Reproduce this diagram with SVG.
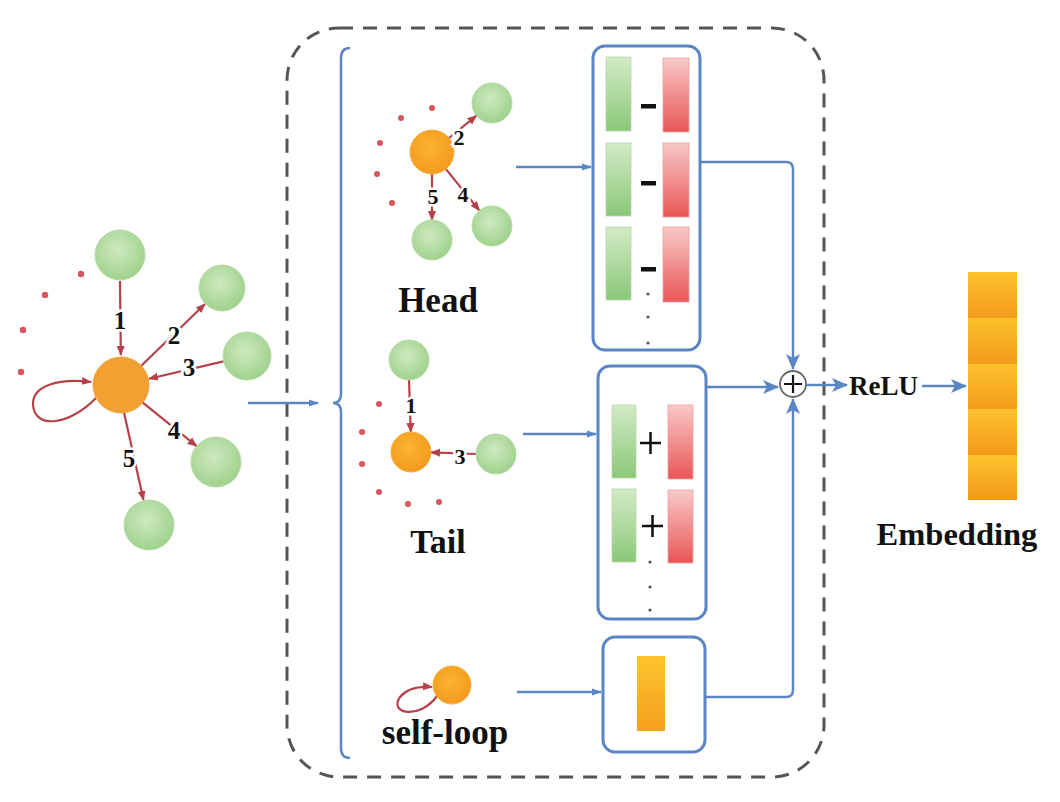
<svg xmlns="http://www.w3.org/2000/svg" width="1060" height="802" viewBox="0 0 1060 802">
<defs>
<style>
.lbl{font-family:"Liberation Serif","Times New Roman",serif;font-weight:bold;fill:#111;}
.num{font-family:"Liberation Serif","Times New Roman",serif;font-weight:bold;fill:#111;text-anchor:middle;stroke:#fff;stroke-width:5;paint-order:stroke;}
.red{stroke:#b5414b;stroke-width:2.2;fill:none;}
.blue{stroke:#5b86c6;stroke-width:2.5;fill:none;}
.box{stroke:#5b86c6;stroke-width:3;fill:#fff;}
.dot{fill:#d9545c;}
.gbar{fill:url(#gbar);stroke:#b8d8a8;stroke-width:0.8;}
.rbar{fill:url(#rbar);stroke:#eaa0a0;stroke-width:0.8;}
.gn{fill:url(#gnode);stroke:#b7dba6;stroke-width:1;}
.on{fill:url(#onode);stroke:#f3b040;stroke-width:1;}
.seg{fill:url(#seg);}
</style>
<linearGradient id="gbar" x1="0" y1="0" x2="0" y2="1"><stop offset="0" stop-color="#d3ebc6"/><stop offset="1" stop-color="#8ac878"/></linearGradient>
<linearGradient id="rbar" x1="0" y1="0" x2="0" y2="1"><stop offset="0" stop-color="#f9c8c8"/><stop offset="1" stop-color="#ea5656"/></linearGradient>
<linearGradient id="seg" x1="0" y1="0" x2="0" y2="1"><stop offset="0" stop-color="#fcc22c"/><stop offset="1" stop-color="#f49a1c"/></linearGradient>
<linearGradient id="obar" x1="0" y1="0" x2="0" y2="1"><stop offset="0" stop-color="#fdc42c"/><stop offset="1" stop-color="#f4a020"/></linearGradient>
<radialGradient id="gnode" cx="0.45" cy="0.4" r="0.6"><stop offset="0" stop-color="#cfe9c1"/><stop offset="1" stop-color="#9fd28c"/></radialGradient>
<radialGradient id="onode" cx="0.45" cy="0.4" r="0.6"><stop offset="0" stop-color="#fbb430"/><stop offset="1" stop-color="#f39a1e"/></radialGradient>
<marker id="ra" markerUnits="userSpaceOnUse" markerWidth="10" markerHeight="10" viewBox="0 0 10 10" refX="9" refY="5" orient="auto"><path d="M0,1 L10,5 L0,9 Z" fill="#b5414b"/></marker>
<marker id="ba" markerUnits="userSpaceOnUse" markerWidth="10" markerHeight="10" viewBox="0 0 10 10" refX="9" refY="5" orient="auto"><path d="M0,1.5 L10,5 L0,8.5 Z" fill="#5b86c6"/></marker>
<marker id="bb" markerUnits="userSpaceOnUse" markerWidth="16" markerHeight="16" viewBox="0 0 16 16" refX="15" refY="8" orient="auto"><path d="M0,1 L16,8 L0,15 L4,8 Z" fill="#5b86c6"/></marker>
</defs>
<rect width="1060" height="802" fill="#fff"/>

<g id="frame">
<rect x="287" y="28" width="537" height="749" rx="52" fill="none" stroke="#555" stroke-width="3" stroke-dasharray="14 10"/>
<path d="M350,48 Q341,48 341,58 L341,394 Q341,403 333,403 Q341,403 341,412 L341,748 Q341,758 350,758" class="blue"/>
</g>

<g id="input-graph">
<path class="red" d="M120,281 L120.8,355" marker-end="url(#ra)"/>
<path class="red" d="M141,366 L205,304" marker-end="url(#ra)"/>
<path class="red" d="M223.6,361.4 L149,378.7" marker-end="url(#ra)"/>
<path class="red" d="M142.8,402.6 L196.6,446.2" marker-end="url(#ra)"/>
<path class="red" d="M124,412.5 L143.5,500" marker-end="url(#ra)"/>
<path class="red" d="M96,398 C70,425 35,430 33,405 C32,385 60,378 91,382" marker-end="url(#ra)"/>
<circle class="gn" cx="120" cy="255" r="25"/>
<circle class="gn" cx="222" cy="288" r="23"/>
<circle class="gn" cx="247" cy="356" r="24"/>
<circle class="gn" cx="216" cy="462" r="25"/>
<circle class="gn" cx="149" cy="525" r="25"/>
<circle cx="121" cy="385" r="28" fill="#f2a032" stroke="#eea040"/>
<circle class="dot" cx="81" cy="274" r="3.2"/>
<circle class="dot" cx="45" cy="295" r="3.2"/>
<circle class="dot" cx="23" cy="330" r="3.2"/>
<circle class="dot" cx="21" cy="372" r="3.2"/>
<text class="num" x="120" y="329" font-size="25">1</text>
<text class="num" x="174" y="344" font-size="25">2</text>
<text class="num" x="189" y="376" font-size="25">3</text>
<text class="num" x="174" y="439" font-size="25">4</text>
<text class="num" x="129" y="467" font-size="25">5</text>
</g>

<g id="head-graph">
<path class="red" d="M449,138 L476.5,115.7" marker-end="url(#ra)"/>
<path class="red" d="M445.9,169.1 L479.4,210.5" marker-end="url(#ra)"/>
<path class="red" d="M432,174 L432,220" marker-end="url(#ra)"/>
<circle class="gn" cx="492" cy="103" r="20"/>
<circle class="gn" cx="492" cy="226" r="20"/>
<circle class="gn" cx="432" cy="240" r="20"/>
<circle class="on" cx="432" cy="152" r="22"/>
<circle class="dot" cx="432" cy="108" r="3"/>
<circle class="dot" cx="401" cy="118" r="3"/>
<circle class="dot" cx="380" cy="143" r="3"/>
<circle class="dot" cx="377" cy="174" r="3"/>
<circle class="dot" cx="392" cy="203" r="3"/>
<text class="num" x="459" y="145" font-size="22">2</text>
<text class="num" x="463" y="202" font-size="22">4</text>
<text class="num" x="433" y="204" font-size="22">5</text>
<text class="lbl" x="438" y="312" font-size="35" text-anchor="middle">Head</text>
</g>

<g id="tail-graph">
<path class="red" d="M409,380 L410.8,432" marker-end="url(#ra)"/>
<path class="red" d="M476,454 L431,452.3" marker-end="url(#ra)"/>
<circle class="gn" cx="409" cy="360" r="20"/>
<circle class="gn" cx="496" cy="454" r="20"/>
<circle class="on" cx="411" cy="452" r="20"/>
<circle class="dot" cx="379" cy="404" r="3"/>
<circle class="dot" cx="362" cy="432" r="3"/>
<circle class="dot" cx="362" cy="464" r="3"/>
<circle class="dot" cx="379" cy="492" r="3"/>
<circle class="dot" cx="408" cy="504" r="3"/>
<circle class="dot" cx="439" cy="502" r="3"/>
<text class="num" x="411" y="413" font-size="22">1</text>
<text class="num" x="460" y="464" font-size="22">3</text>
<text class="lbl" x="438" y="553" font-size="34" text-anchor="middle">Tail</text>
</g>

<g id="selfloop-graph">
<path class="red" d="M437,696 C420,720 388,714 400,697 C407,688 418,686 432,687" marker-end="url(#ra)"/>
<circle class="on" cx="452" cy="685" r="19"/>
<text class="lbl" x="445" y="744" font-size="35" text-anchor="middle">self-loop</text>
</g>

<g id="head-box">
<rect class="box" x="593" y="46" width="107" height="304" rx="12"/>
<rect class="gbar" x="606" y="57" width="25" height="74"/>
<rect class="gbar" x="606" y="143" width="25" height="73"/>
<rect class="gbar" x="606" y="227" width="25" height="73"/>
<rect class="rbar" x="663" y="58" width="26" height="74"/>
<rect class="rbar" x="663" y="143" width="26" height="74"/>
<rect class="rbar" x="663" y="227" width="26" height="75"/>
<rect x="641" y="104" width="15" height="4.5" fill="#111"/>
<rect x="641" y="181" width="15" height="4.5" fill="#111"/>
<rect x="641" y="267" width="15" height="4.5" fill="#111"/>
<circle cx="648" cy="294" r="1.6" fill="#555"/>
<circle cx="648" cy="317" r="1.6" fill="#555"/>
<circle cx="648" cy="343" r="1.6" fill="#555"/>
</g>

<g id="tail-box">
<rect class="box" x="598" y="366" width="108" height="253" rx="12"/>
<rect class="gbar" x="612" y="405" width="24" height="73"/>
<rect class="gbar" x="612" y="489" width="24" height="73"/>
<rect class="rbar" x="668" y="405" width="25" height="74"/>
<rect class="rbar" x="668" y="490" width="25" height="73"/>
<path d="M640,443 L661,443 M650.5,432 L650.5,454 M642,526 L663,526 M652.5,515 L652.5,537" stroke="#111" stroke-width="2.5"/>
<circle cx="650" cy="562" r="1.6" fill="#555"/>
<circle cx="650" cy="587" r="1.6" fill="#555"/>
<circle cx="650" cy="610" r="1.6" fill="#555"/>
</g>

<g id="selfloop-box">
<rect class="box" x="603" y="637" width="102" height="115" rx="12"/>
<rect x="637" y="656" width="28" height="75" fill="url(#obar)"/>
</g>

<g id="sum">
<circle cx="793" cy="384" r="13" fill="#fff" stroke="#666" stroke-width="1.8"/>
<path d="M784,384 L802,384 M793,375 L793,393" stroke="#111" stroke-width="2.2"/>
</g>

<g id="embedding">
<rect class="seg" x="968" y="272" width="49" height="46"/>
<rect class="seg" x="968" y="318" width="49" height="46"/>
<rect class="seg" x="968" y="364" width="49" height="45"/>
<rect class="seg" x="968" y="409" width="49" height="46"/>
<rect class="seg" x="968" y="455" width="49" height="45"/>
<text class="lbl" x="957" y="545" font-size="32.5" text-anchor="middle">Embedding</text>
</g>

<g id="relu">
<text class="lbl" x="849" y="395" font-size="27">ReLU</text>
</g>

<g id="connectors">
<path class="blue" d="M248,403 L318,403" marker-end="url(#ba)"/>
<path class="blue" d="M516,167 L591,167" marker-end="url(#ba)"/>
<path class="blue" d="M523,434 L596,434" marker-end="url(#ba)"/>
<path class="blue" d="M517,692 L601,692" marker-end="url(#ba)"/>
<path class="blue" d="M700,162 L786,162 Q793,162 793,169 L793,369" stroke-width="3" marker-end="url(#bb)"/>
<path class="blue" d="M706,387 L778,387" stroke-width="3" marker-end="url(#bb)"/>
<path class="blue" d="M705,697 L786,697 Q793,697 793,690 L793,399" stroke-width="3" marker-end="url(#bb)"/>
<path class="blue" d="M806,385 L847,385" stroke-width="4" marker-end="url(#bb)"/>
<path class="blue" d="M922,386 L966,386" stroke-width="4.5" marker-end="url(#bb)"/>
</g>
</svg>
